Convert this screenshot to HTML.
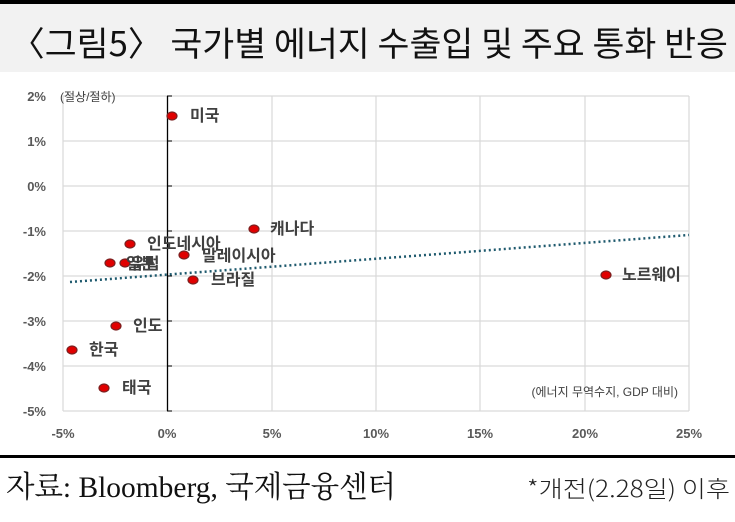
<!DOCTYPE html>
<html><head><meta charset="utf-8"><style>
body{margin:0;width:735px;height:522px;background:#fff;overflow:hidden;font-family:"Liberation Sans","Noto Sans CJK KR",sans-serif}
</style></head><body>
<svg width="735" height="522" xmlns="http://www.w3.org/2000/svg" style="position:absolute;left:0;top:0">
<rect x="0" y="0" width="735" height="4" fill="#000"/>
<rect x="0" y="4" width="735" height="68" fill="#f2f2f2"/>
<text x="10" y="56" font-family="'Noto Sans CJK KR',sans-serif" font-size="34" fill="#111" textLength="718" lengthAdjust="spacingAndGlyphs">〈그림5〉 국가별 에너지 수출입 및 주요 통화 반응</text>
<g stroke="#d9d9d9" stroke-width="1.2">
<line x1="63" y1="96" x2="689" y2="96"/><line x1="63" y1="141" x2="689" y2="141"/><line x1="63" y1="186" x2="689" y2="186"/>
<line x1="63" y1="231" x2="689" y2="231"/><line x1="63" y1="276" x2="689" y2="276"/><line x1="63" y1="321" x2="689" y2="321"/>
<line x1="63" y1="366" x2="689" y2="366"/><line x1="63" y1="411" x2="689" y2="411"/>
<line x1="63" y1="96" x2="63" y2="411"/><line x1="272" y1="96" x2="272" y2="411"/><line x1="376" y1="96" x2="376" y2="411"/>
<line x1="480" y1="96" x2="480" y2="411"/><line x1="585" y1="96" x2="585" y2="411"/><line x1="689" y1="96" x2="689" y2="411"/>
</g>
<line x1="167.5" y1="96" x2="167.5" y2="411" stroke="#000" stroke-width="1.3"/>
<g stroke="#000"><line x1="167" y1="96" x2="172" y2="96"/><line x1="167" y1="141" x2="172" y2="141"/><line x1="167" y1="186" x2="172" y2="186"/><line x1="167" y1="231" x2="172" y2="231"/><line x1="167" y1="276" x2="172" y2="276"/><line x1="167" y1="321" x2="172" y2="321"/><line x1="167" y1="366" x2="172" y2="366"/><line x1="167" y1="411" x2="172" y2="411"/></g>
<g font-size="13" font-weight="bold" fill="#595959" text-anchor="end">
<text x="46" y="101">2%</text><text x="46" y="146">1%</text><text x="46" y="191">0%</text><text x="46" y="236">-1%</text>
<text x="46" y="281">-2%</text><text x="46" y="326">-3%</text><text x="46" y="371">-4%</text><text x="46" y="416">-5%</text>
</g>
<g font-size="13" font-weight="bold" fill="#595959" text-anchor="middle">
<text x="63" y="438">-5%</text><text x="167" y="438">0%</text><text x="272" y="438">5%</text><text x="376" y="438">10%</text>
<text x="480" y="438">15%</text><text x="585" y="438">20%</text><text x="689" y="438">25%</text>
</g>
<text x="60" y="101" font-size="12" fill="#404040">(절상/절하)</text>
<text x="678" y="396" font-size="12" fill="#404040" text-anchor="end">(에너지 무역수지, GDP 대비)</text>
<line x1="70" y1="282" x2="689" y2="235" stroke="#1f5a6e" stroke-width="2.5" stroke-dasharray="2 3"/>
<g fill="#e00000" stroke="#7a2020" stroke-width="1.2">
<ellipse cx="172" cy="116" rx="5" ry="4"/><ellipse cx="254" cy="229" rx="5" ry="4"/><ellipse cx="130" cy="244" rx="5" ry="4"/>
<ellipse cx="184" cy="255" rx="5" ry="4"/><ellipse cx="110" cy="263" rx="5" ry="4"/><ellipse cx="125" cy="263" rx="5" ry="4"/>
<ellipse cx="193" cy="280" rx="5" ry="4"/><ellipse cx="606" cy="275" rx="5" ry="4"/><ellipse cx="116" cy="326" rx="5" ry="4"/>
<ellipse cx="72" cy="350" rx="5" ry="4"/><ellipse cx="104" cy="388" rx="5" ry="4"/>
</g>
<g font-size="16" font-weight="bold" fill="#404040">
<text x="190" y="121">미국</text><text x="270" y="234">캐나다</text><text x="147" y="249">인도네시아</text>
<text x="202" y="261">말레이시아</text><text x="126" y="269">일본</text><text x="130" y="269">유럽</text>
<text x="211" y="285">브라질</text><text x="622" y="280">노르웨이</text><text x="133" y="331">인도</text>
<text x="89" y="355">한국</text><text x="122" y="393">태국</text>
</g>
<rect x="0" y="455" width="735" height="3" fill="#000"/>
<text x="6" y="497" font-family="'Liberation Serif','Noto Serif CJK SC',serif" font-size="30" fill="#111" textLength="390" lengthAdjust="spacingAndGlyphs">자료: Bloomberg, 국제금융센터</text>
<text x="527" y="497" font-family="'Noto Sans CJK KR',sans-serif" font-size="23" font-weight="300" fill="#222" textLength="203" lengthAdjust="spacingAndGlyphs">*개전(2.28일) 이후</text>
</svg>
</body></html>
